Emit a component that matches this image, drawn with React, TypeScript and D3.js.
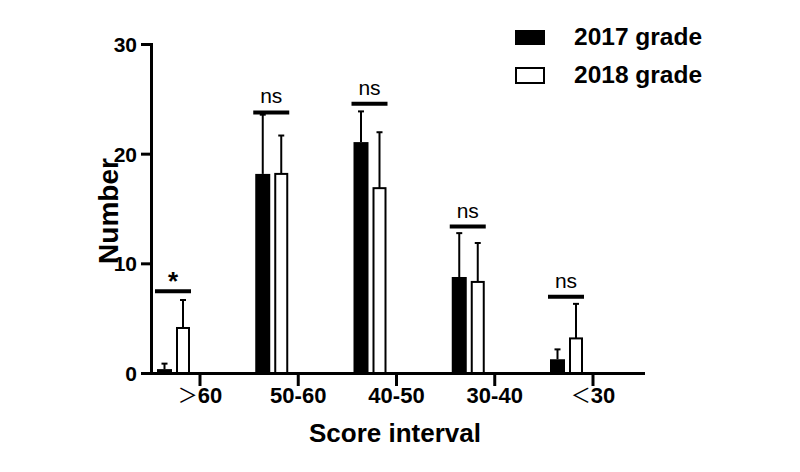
import React from "react";
import * as d3 from "d3";

const categories = [">60", "50-60", "40-50", "30-40", "<30"];
const labelSymbols = ["＞", "", "", "", "＜"];
const labelTexts = ["60", "50-60", "40-50", "30-40", "30"];
const mean2017 = [0.4, 18.2, 21.1, 8.8, 1.3];
const sd2017 = [0.5, 5.4, 2.8, 4.0, 0.9];
const mean2018 = [4.15, 18.2, 16.9, 8.35, 3.2];
const sd2018 = [2.55, 3.5, 5.1, 3.55, 3.15];
const sigLevel = [7.5, 23.8, 24.6, 13.4, 7.0];
const sigLabel = ["*", "ns", "ns", "ns", "ns"];
const yTicks = [0, 10, 20, 30];
const seriesNames = ["2017 grade", "2018 grade"];

const FONT = "'Liberation Sans', Arial, Helvetica, sans-serif";

export default function App() {
  const W = 800;
  const H = 472;
  const axisX = 151.5;
  const axisY = 373.5;
  const y = d3.scaleLinear().domain([0, 30]).range([373.5, 44.5]);
  const x = d3.scalePoint<string>().domain(categories).range([200, 593]);

  const blackOff = -43;
  const blackW = 15;
  const whiteOff = -24;
  const whiteW = 14;

  return (
    <svg
      width={W}
      height={H}
      style={{ position: "absolute", left: 0, top: 0, background: "#fff" }}
      fontFamily={FONT}
    >
      <rect x={0} y={0} width={W} height={H} fill="#fff" />
      {categories.map((c, i) => {
        const t = x(c)!;
        const bx = t + blackOff;
        const wx = t + whiteOff;
        const bTop = y(mean2017[i]);
        const wTop = y(mean2018[i]);
        const bErr = y(mean2017[i] + sd2017[i]);
        const wErr = y(mean2018[i] + sd2018[i]);
        const bc = bx + blackW / 2;
        const wc = wx + whiteW / 2;
        return (
          <g key={c}>
            <line x1={bc} x2={bc} y1={bTop} y2={bErr} stroke="#000" strokeWidth={2} />
            <line x1={bc - 3} x2={bc + 3} y1={bErr} y2={bErr} stroke="#000" strokeWidth={2} />
            <line x1={wc} x2={wc} y1={wTop} y2={wErr} stroke="#000" strokeWidth={2} />
            <line x1={wc - 3} x2={wc + 3} y1={wErr} y2={wErr} stroke="#000" strokeWidth={2} />
            <rect x={bx} y={bTop} width={blackW} height={axisY - bTop} fill="#000" />
            <rect
              x={wx + 1}
              y={wTop}
              width={whiteW - 2}
              height={axisY - wTop}
              fill="#fff"
              stroke="#000"
              strokeWidth={2}
            />
            <line
              x1={t - 45}
              x2={t - 9}
              y1={y(sigLevel[i])}
              y2={y(sigLevel[i])}
              stroke="#000"
              strokeWidth={4}
            />
            <text
              x={t - 27}
              y={y(sigLevel[i]) - (sigLabel[i] === "*" ? 1 : 9)}
              textAnchor="middle"
              fontSize={sigLabel[i] === "*" ? 26 : 21}
              fontWeight={sigLabel[i] === "*" ? "bold" : "normal"}
            >
              {sigLabel[i]}
            </text>
          </g>
        );
      })}
      <line x1={axisX} x2={axisX} y1={43} y2={375} stroke="#000" strokeWidth={3} />
      <line x1={150} x2={645} y1={axisY} y2={axisY} stroke="#000" strokeWidth={3} />
      {yTicks.map((v) => (
        <g key={v}>
          <line x1={141} x2={axisX} y1={y(v)} y2={y(v)} stroke="#000" strokeWidth={3} />
          <text
            x={137}
            y={y(v)}
            dy="0.36em"
            textAnchor="end"
            fontSize={21}
            fontWeight="bold"
          >
            {v}
          </text>
        </g>
      ))}
      {categories.map((c, i) => (
        <g key={"xt" + c}>
          <line x1={x(c)!} x2={x(c)!} y1={axisY} y2={386} stroke="#000" strokeWidth={3} />
          <text x={x(c)!} y={403} textAnchor="middle" fontSize={22} fontWeight="bold">
            {labelSymbols[i] ? (
              <tspan fontFamily="'Noto Sans CJK SC', 'Noto Sans', sans-serif" fontWeight="normal" fontSize={20}>
                {labelSymbols[i]}
              </tspan>
            ) : null}
            <tspan>{labelTexts[i]}</tspan>
          </text>
        </g>
      ))}
      <text x={395} y={442} textAnchor="middle" fontSize={26} fontWeight="bold">
        Score interval
      </text>
      <text
        transform="translate(118,211) rotate(-90)"
        textAnchor="middle"
        fontSize={28}
        fontWeight="bold"
      >
        Number
      </text>
      <rect x={515} y={30} width={30} height={15} fill="#000" />
      <rect x={516} y={68} width={28} height={15} fill="#fff" stroke="#000" strokeWidth={2} />
      <text x={574} y={45} fontSize={24.5} fontWeight="bold">
        {seriesNames[0]}
      </text>
      <text x={574} y={83} fontSize={24.5} fontWeight="bold">
        {seriesNames[1]}
      </text>
    </svg>
  );
}
